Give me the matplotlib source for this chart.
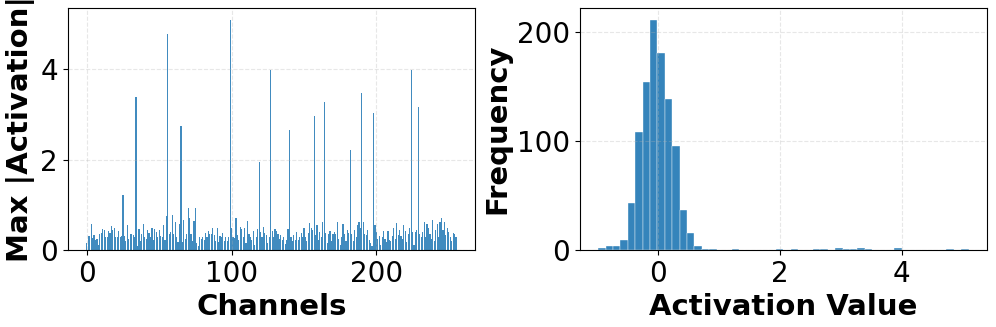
import numpy as np
import matplotlib
matplotlib.use("Agg")
import matplotlib.pyplot as plt

# Max |activation| per channel (256 channels)
max_act = [
    0.16, 0.32, 0.31, 0.57, 0.26, 0.33, 0.22, 0.25, 0.11, 0.36, 0.37, 0.47, 0.45, 0.30, 0.28, 0.42,
    0.38, 0.53, 0.45, 0.48, 0.28, 0.30, 0.42, 0.30, 0.31, 1.22, 0.32, 0.20, 0.55, 0.25, 0.35, 0.35,
    0.33, 0.30, 3.38, 0.10, 0.47, 0.20, 0.35, 0.58, 0.30, 0.25, 0.45, 0.38, 0.28, 0.48, 0.22, 0.46,
    0.40, 0.30, 0.44, 0.32, 0.28, 0.56, 0.22, 0.75, 4.76, 0.36, 0.40, 0.77, 0.35, 0.63, 0.30, 0.18,
    0.58, 2.74, 0.18, 0.67, 0.25, 0.35, 0.94, 0.72, 0.36, 0.20, 0.64, 0.93, 0.15, 0.10, 0.30, 0.25,
    0.28, 0.22, 0.38, 0.30, 0.42, 0.35, 0.36, 0.50, 0.33, 0.20, 0.49, 0.18, 0.32, 0.30, 0.38, 0.20,
    0.28, 0.20, 0.30, 5.09, 0.50, 0.30, 0.27, 0.72, 0.33, 0.22, 0.52, 0.47, 0.30, 0.48, 0.15, 0.65,
    0.36, 0.30, 0.22, 0.42, 0.12, 0.30, 0.46, 1.95, 0.40, 0.30, 0.52, 0.38, 0.33, 0.15, 0.28, 3.97,
    0.42, 0.30, 0.46, 0.42, 0.35, 0.25, 0.34, 0.22, 0.30, 0.14, 0.22, 0.46, 2.65, 0.30, 0.20, 0.34,
    0.22, 0.40, 0.22, 0.28, 0.38, 0.30, 0.48, 0.30, 0.20, 0.38, 0.60, 0.48, 0.45, 2.96, 0.33, 0.56,
    0.22, 0.40, 0.30, 0.62, 3.27, 0.38, 0.15, 0.35, 0.42, 0.20, 0.35, 0.40, 0.35, 0.62, 0.25, 0.12,
    0.30, 0.58, 0.36, 0.20, 0.45, 0.38, 2.20, 0.35, 0.20, 0.45, 0.30, 0.55, 0.62, 0.50, 3.46, 0.62,
    0.35, 0.33, 0.45, 0.22, 0.15, 0.10, 3.03, 0.55, 0.40, 0.25, 0.32, 0.12, 0.28, 0.42, 0.25, 0.18,
    0.42, 0.22, 0.20, 0.32, 0.50, 0.25, 0.60, 0.33, 0.45, 0.32, 0.25, 0.55, 0.42, 0.18, 0.35, 0.48,
    3.98, 0.40, 0.12, 0.40, 0.45, 3.16, 0.35, 0.28, 0.40, 0.62, 0.30, 0.58, 0.48, 0.35, 0.25, 0.66,
    0.20, 0.45, 0.58, 0.30, 0.62, 0.72, 0.45, 0.62, 0.33, 0.50, 0.40, 0.30, 0.20, 0.37, 0.35, 0.30,
]
channels = np.arange(len(max_act))

# Histogram of activation values: 50 bins from -0.98 to 5.095
bin_edges = np.linspace(-0.98, 5.095, 51)
bin_counts = [
    2, 4, 4, 9, 43, 108, 154, 211, 180, 138,
    95, 37, 16, 4, 1, 1, 0, 0, 1, 0,
    0, 0, 0, 0, 1, 0, 1, 0, 0, 1,
    1, 0, 2, 1, 1, 2, 1, 0, 0, 0,
    2, 0, 0, 0, 0, 0, 0, 1, 0, 1,
]
bin_centers = (bin_edges[:-1] + bin_edges[1:]) / 2

fig = plt.figure(figsize=(9.96, 3.27), dpi=100)
ax1 = fig.add_axes([0.068, 0.235, 0.409, 0.7405])
ax2 = fig.add_axes([0.582, 0.235, 0.409, 0.7405])

# Left: max |activation| per channel
ax1.bar(channels, max_act, width=0.8, color='#1f77b4', alpha=0.85)
ax1.set_xlabel("Channels", fontsize=21, fontweight='bold')
ax1.set_ylabel("Max |Activation|", fontsize=21, fontweight='bold')
ax1.tick_params(labelsize=20)
ax1.grid(True, linestyle='--', alpha=0.3)

# Right: histogram
ax2.hist(bin_centers, bins=bin_edges, weights=bin_counts, color='#1f77b4',
         alpha=0.9, edgecolor='white', linewidth=0.3)
ax2.set_xlabel("Activation Value", fontsize=21, fontweight='bold')
ax2.set_ylabel("Frequency", fontsize=21, fontweight='bold')
ax2.tick_params(labelsize=20)
ax2.grid(True, linestyle='--', alpha=0.3)

fig.savefig("out.png", dpi=100)
